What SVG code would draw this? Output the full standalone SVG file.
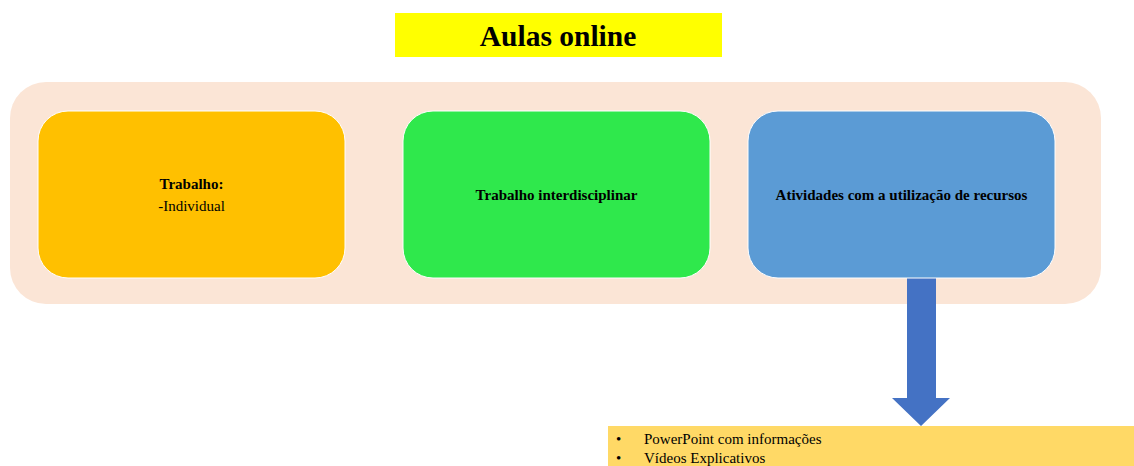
<svg xmlns="http://www.w3.org/2000/svg" width="1134" height="466" viewBox="0 0 1134 466">
<style>
.t{font-family:"Liberation Serif","Times New Roman",serif;fill:#000}
.b{font-weight:bold;font-size:15px}
.r{font-size:15px}
.node{stroke:#fff;stroke-width:1}
</style>
<rect x="0" y="0" width="1134" height="466" fill="#fff"/>
<g id="title">
<rect x="395" y="13" width="327" height="44" fill="#ffff00"/>
<text class="t" x="558" y="46" text-anchor="middle" font-size="29.5" font-weight="bold">Aulas online</text>
</g>
<g id="container">
<rect x="10" y="82" width="1091" height="222" rx="36" ry="36" fill="#fbe5d6"/>
</g>
<g id="connectors">
<polygon points="907,278 936,278 936,398 950,398 921,426 892,398 907,398" fill="#4472c4"/>
</g>
<g id="node-trabalho">
<rect class="node" x="38" y="111" width="307" height="167" rx="30" ry="30" fill="#ffc000"/>
<text class="t b" x="191.5" y="189" text-anchor="middle">Trabalho:</text>
<text class="t r" x="191.5" y="211" text-anchor="middle">-Individual</text>
</g>
<g id="node-interdisciplinar">
<rect class="node" x="403" y="111" width="307" height="167" rx="30" ry="30" fill="#2fe84c"/>
<text class="t b" x="556.5" y="200" text-anchor="middle">Trabalho interdisciplinar</text>
</g>
<g id="node-atividades">
<rect class="node" x="748" y="111" width="307" height="167" rx="30" ry="30" fill="#5b9bd5"/>
<text class="t b" x="901.5" y="200" text-anchor="middle">Atividades com a utilização de recursos</text>
</g>
<g id="node-recursos">
<rect x="608" y="426" width="526" height="40" fill="#ffd966"/>
<text class="t r" x="616" y="444">•</text>
<text class="t r" x="644" y="444">PowerPoint com informações</text>
<text class="t r" x="616" y="463">•</text>
<text class="t r" x="644" y="463">Vídeos Explicativos</text>
</g>
</svg>
